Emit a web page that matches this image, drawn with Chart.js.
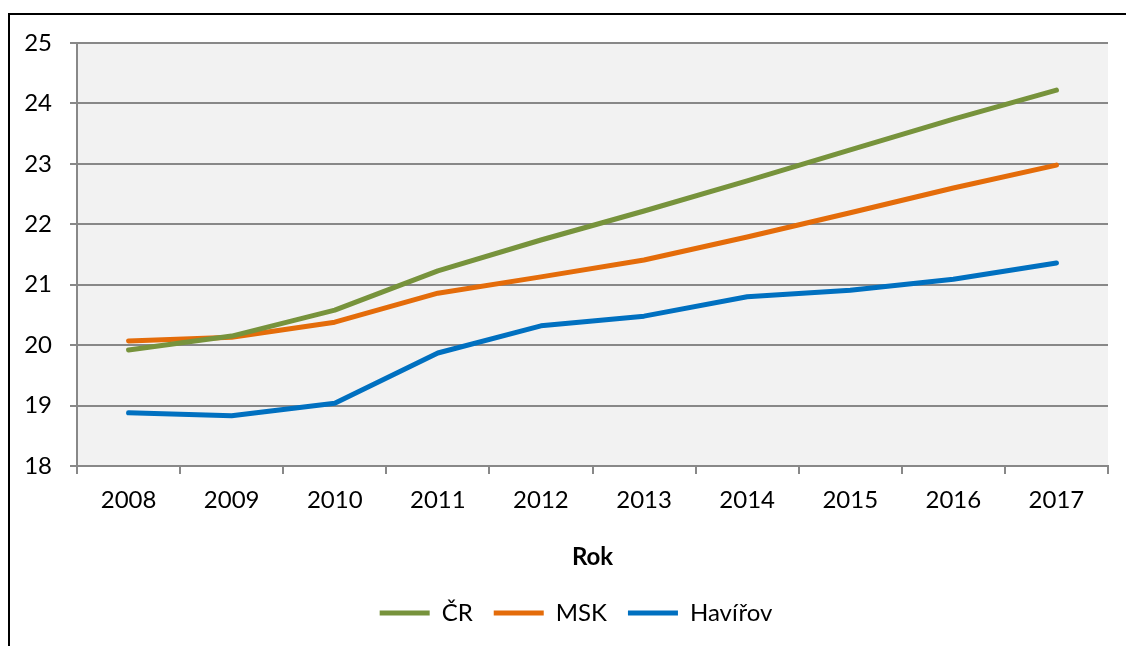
<!DOCTYPE html>
<html>
<head>
<meta charset="utf-8">
<script src="https://cdn.jsdelivr.net/npm/chart.js@4/dist/chart.umd.min.js"></script>
<style>
  html, body { margin: 0; padding: 0; background: #ffffff; }
  #wrap { position: relative; width: 1126px; height: 646px; }
</style>
</head>
<body>
<div id="wrap"><canvas id="chart"></canvas></div>
<script>
"use strict";

// data
const years    = ["2008", "2009", "2010", "2011", "2012", "2013", "2014", "2015", "2016", "2017"];
const cr       = [19.92, 20.15, 20.58, 21.23, 21.74, 22.22, 22.72, 23.23, 23.74, 24.22];
const msk      = [20.07, 20.13, 20.38, 20.86, 21.13, 21.41, 21.79, 22.19, 22.60, 22.98];
const havirov  = [18.88, 18.83, 19.04, 19.87, 20.32, 20.48, 20.80, 20.91, 21.09, 21.36];
const yMin = 18, yMax = 25;
const xTitle = "Rok";

const FONT = "Lato, 'Open Sans', sans-serif";
const FONT_SIZE = 24;
const GRID = "#888888";

const series = [
    { label: "ČR",      data: cr,      color: "#77933C" },
    { label: "MSK",     data: msk,     color: "#E46C0A" },
    { label: "Havířov", data: havirov, color: "#0070C0" }
];

// plot background + outer frame
const framePlugin = {
    id: "frame",
    afterLayout(chart) {
        // legend sits a bit right of centre in the original
        if (chart.legend) { chart.legend.left += 22; chart.legend.right += 22; }
    },
    beforeDraw(chart) {
        const { ctx, chartArea: a } = chart;
        ctx.save();
        ctx.fillStyle = "#f2f2f2";
        ctx.fillRect(a.left, a.top, a.right - a.left, a.bottom - a.top);
        ctx.strokeStyle = "#000000";
        ctx.lineWidth = 2;
        ctx.beginPath();
        ctx.moveTo(9, chart.height);
        ctx.lineTo(9, 14);
        ctx.lineTo(chart.width, 14);
        ctx.stroke();
        ctx.restore();
    }
};

new Chart(document.getElementById("chart"), {
    type: "line",
    data: {
        labels: years,
        datasets: series.map(s => ({
            label: s.label,
            data: s.data,
            borderColor: s.color,
            backgroundColor: s.color,
            borderWidth: 5,
            borderCapStyle: "round",
            borderJoinStyle: "round",
            pointRadius: 0,
            pointHoverRadius: 0,
            pointStyle: "line",
            fill: false,
            tension: 0
        }))
    },
    options: {
        responsive: true,
        maintainAspectRatio: false,
        animation: false,
        layout: { padding: { top: 43, right: 18, bottom: 11, left: 0 } },
        plugins: {
            legend: {
                position: "bottom",
                labels: {
                    color: "#000000",
                    font: { family: FONT, size: FONT_SIZE },
                    usePointStyle: true,
                    pointStyleWidth: 50,
                    padding: 21
                }
            },
            tooltip: { enabled: false }
        },
        scales: {
            x: {
                offset: true,
                grid: {
                    offset: true,
                    drawOnChartArea: false,
                    drawTicks: true,
                    tickLength: 8,
                    color: GRID,
                    lineWidth: 2
                },
                border: { display: true, color: GRID, width: 2 },
                ticks: { color: "#000000", font: { family: FONT, size: FONT_SIZE }, padding: 12, maxRotation: 0 },
                title: {
                    display: true,
                    text: xTitle,
                    color: "#000000",
                    font: { family: FONT, size: FONT_SIZE, weight: "bold" },
                    padding: { top: 28, bottom: 8 }
                },
                afterFit: (scale) => { scale.height = 114; }
            },
            y: {
                min: yMin,
                max: yMax,
                grid: { color: GRID, lineWidth: 2, tickLength: 7 },
                border: { display: true, color: GRID, width: 2 },
                ticks: { stepSize: 1, color: "#000000", font: { family: FONT, size: FONT_SIZE }, padding: 18 },
                afterFit: (scale) => { scale.width = 77; }
            }
        }
    },
    plugins: [framePlugin]
});
</script>
</body>
</html>
